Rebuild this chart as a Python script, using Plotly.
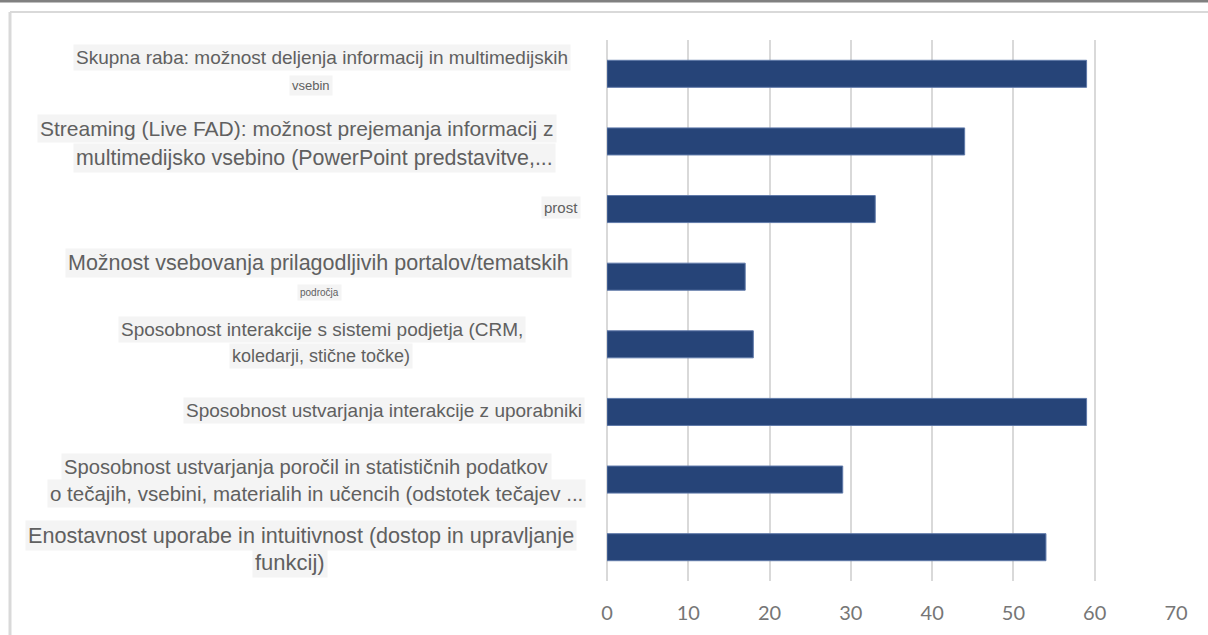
import plotly.graph_objects as go

# data
labels = [
    "Skupna raba: možnost deljenja informacij in multimedijskih<br>vsebin",
    "Streaming (Live FAD): možnost prejemanja informacij z<br>multimedijsko vsebino (PowerPoint predstavitve,...",
    "prost",
    "Možnost vsebovanja prilagodljivih portalov/tematskih<br>področja",
    "Sposobnost interakcije s sistemi podjetja (CRM,<br>koledarji, stične točke)",
    "Sposobnost ustvarjanja interakcije z uporabniki",
    "Sposobnost ustvarjanja poročil in statističnih podatkov<br>o tečajih, vsebini, materialih in učencih (odstotek tečajev ...",
    "Enostavnost uporabe in intuitivnost (dostop in upravljanje<br>funkcij)",
]
values = [59, 44, 33, 17, 18, 59, 29, 54]
x_ticks = [0, 10, 20, 30, 40, 50, 60, 70]

# per line label style: (centre x in px, yshift in px, font size)
line_styles = [
    [(322, 16, 19), (311, -12, 13)],
    [(297, 13, 21), (314, -17, 21.4)],
    [(561, 2, 15)],
    [(318, 14, 21.5), (319, -16, 10)],
    [(322, 15, 19), (321, -12, 18)],
    [(384, 1, 19)],
    [(306, 13, 20.2), (316, -14, 20.5)],
    [(301, 12, 21.6), (290, -15, 22)],
]

W, H = 1208, 635
L, R, T, B = 607, 32, 40, 54
plot_w = W - L - R
plot_h = H - T - B


def px_x(px):
    return (px - L) / plot_w


def px_y(py):
    return (H - B - py) / plot_h


fig = go.Figure()
fig.add_trace(go.Bar(
    x=values, y=labels, orientation='h',
    marker=dict(color='#264478', line=dict(color='#5f79a9', width=1)),
))

# category labels drawn as annotations, one per line, each with its own grey box
for lab, styles in zip(labels, line_styles):
    for line, (cx, shift, size) in zip(lab.split('<br>'), styles):
        fig.add_annotation(
            x=px_x(cx), xref='paper', xanchor='center',
            y=lab, yref='y', yshift=shift,
            text=line, showarrow=False,
            bgcolor='#f4f4f4', borderpad=2,
            font=dict(family='Liberation Sans, Arial', size=size, color='#606060'),
        )

# frame around the chart
fig.add_shape(type='rect', xref='paper', yref='paper',
              x0=px_x(-5), x1=px_x(W + 5), y0=px_y(2.5), y1=px_y(-5),
              fillcolor='#808080', line_width=0, layer='below')
fig.add_shape(type='line', xref='paper', yref='paper',
              x0=px_x(10), x1=px_x(W + 5), y0=px_y(12), y1=px_y(12),
              line=dict(color='#d9d9d9', width=2))
fig.add_shape(type='line', xref='paper', yref='paper',
              x0=px_x(10), x1=px_x(10), y0=px_y(12), y1=px_y(H + 5),
              line=dict(color='#d9d9d9', width=3))

fig.update_layout(
    width=W, height=H,
    margin=dict(l=L, r=R, t=T, b=B),
    plot_bgcolor='white', paper_bgcolor='white',
    bargap=0.6,
    showlegend=False,
    xaxis=dict(
        range=[0, 70], tickvals=x_ticks,
        showgrid=True, gridcolor='#d9d9d9', gridwidth=2,
        zeroline=True, zerolinecolor='#d9d9d9', zerolinewidth=2,
        showline=False, ticks='',
        ticklabelstandoff=18,
        tickfont=dict(family='Lato', size=20, color='#767676'),
    ),
    yaxis=dict(
        autorange='reversed', showticklabels=False,
        showgrid=False, zeroline=False, showline=False, ticks='',
    ),
)

fig.write_html("out.html", config={'displayModeBar': False},
               post_script="document.body.style.margin='0';")
